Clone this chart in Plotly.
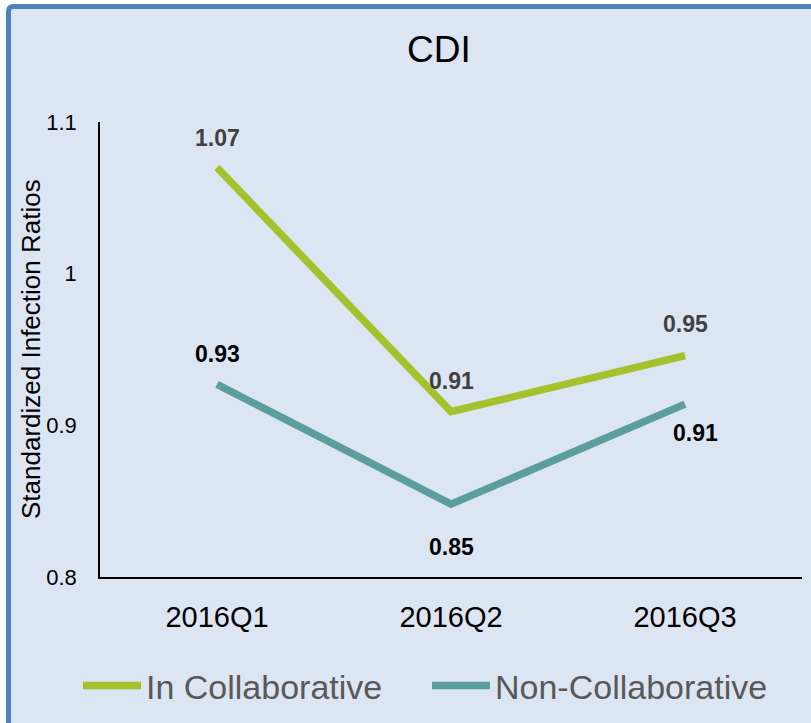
import plotly.graph_objects as go

categories = ["2016Q1", "2016Q2", "2016Q3"]
in_collab = [1.070, 0.909, 0.946]
non_collab = [0.927, 0.848, 0.914]
in_labels = ["1.07", "0.91", "0.95"]
non_labels = ["0.93", "0.85", "0.91"]
y_ticks = [0.8, 0.9, 1.0, 1.1]
y_ticktext = ["0.8", "0.9", "1", "1.1"]

W, H = 811, 723
L, R, T, B = 100, 802, 122, 577

def px2x(px):
    return (px - L) / (R - L)

def py2y(py):
    return (B - py) / (B - T)

GREEN = "#a3c22b"
TEAL = "#5c9ea0"
FONT = "Liberation Sans, Arial, sans-serif"

fig = go.Figure()
fig.add_trace(go.Scatter(x=categories, y=in_collab, mode="lines", name="In Collaborative",
                         line=dict(color=GREEN, width=7.5)))
fig.add_trace(go.Scatter(x=categories, y=non_collab, mode="lines", name="Non-Collaborative",
                         line=dict(color=TEAL, width=7.5)))

annotations = []
in_shifts = [(0, 30), (0, 31), (0, 32)]
non_shifts = [(0, 30), (0, -43), (10, -29)]
for c, v, t, (dx, dy) in zip(categories, in_collab, in_labels, in_shifts):
    annotations.append(dict(x=c, y=v, text="<b>" + t + "</b>", showarrow=False,
                            xshift=dx, yshift=dy, font=dict(size=23, color="#404040", family=FONT)))
for c, v, t, (dx, dy) in zip(categories, non_collab, non_labels, non_shifts):
    annotations.append(dict(x=c, y=v, text="<b>" + t + "</b>", showarrow=False,
                            xshift=dx, yshift=dy, font=dict(size=23, color="#000000", family=FONT)))

annotations.append(dict(xref="paper", yref="paper", x=px2x(439), y=py2y(50), text="CDI",
                        showarrow=False, font=dict(size=37, color="#000000", family=FONT),
                        xanchor="center", yanchor="middle"))
annotations.append(dict(xref="paper", yref="paper", x=px2x(31), y=py2y(349),
                        text="Standardized Infection Ratios", textangle=-90, showarrow=False,
                        font=dict(size=26, color="#000000", family=FONT),
                        xanchor="center", yanchor="middle"))

r = 5
xl, yt = px2x(8.5), py2y(6.5)
path = (f"M {xl},{py2y(800)} L {xl},{py2y(6.5 + r)} "
        f"Q {xl},{yt} {px2x(8.5 + r)},{yt} L {px2x(900)},{yt} L {px2x(900)},{py2y(800)} Z")

fig.update_layout(
    width=W, height=H,
    margin=dict(l=L, r=W - R, t=T, b=H - B, pad=0, autoexpand=False),
    paper_bgcolor="#ffffff",
    plot_bgcolor="rgba(0,0,0,0)",
    font=dict(family=FONT, color="#000000"),
    showlegend=True,
    legend=dict(orientation="h", x=px2x(78), y=py2y(686), xanchor="left", yanchor="middle",
                font=dict(size=34, color="#595959", family=FONT),
                itemwidth=58, entrywidth=276, entrywidthmode="pixels",
                bgcolor="rgba(0,0,0,0)", tracegroupgap=0),
    xaxis=dict(range=[-0.5, 2.5], showline=True, linecolor="#000000", linewidth=1.5,
               showgrid=False, zeroline=False, ticks="", tickfont=dict(size=29, color="#000000"),
               ticklabelstandoff=13),
    yaxis=dict(range=[0.8, 1.1], tickvals=y_ticks, ticktext=y_ticktext, showline=True,
               linecolor="#000000", linewidth=1.5, showgrid=False, zeroline=False, ticks="",
               tickfont=dict(size=22, color="#000000"), ticklabelstandoff=17),
    annotations=annotations,
    shapes=[dict(type="path", xref="paper", yref="paper", path=path,
                 fillcolor="#dce6f2", line=dict(color="#4f81bd", width=5), layer="below")],
)

fig.write_html("out.html", config={"displayModeBar": False},
               post_script="document.body.style.margin='0';document.body.style.overflow='hidden';")
